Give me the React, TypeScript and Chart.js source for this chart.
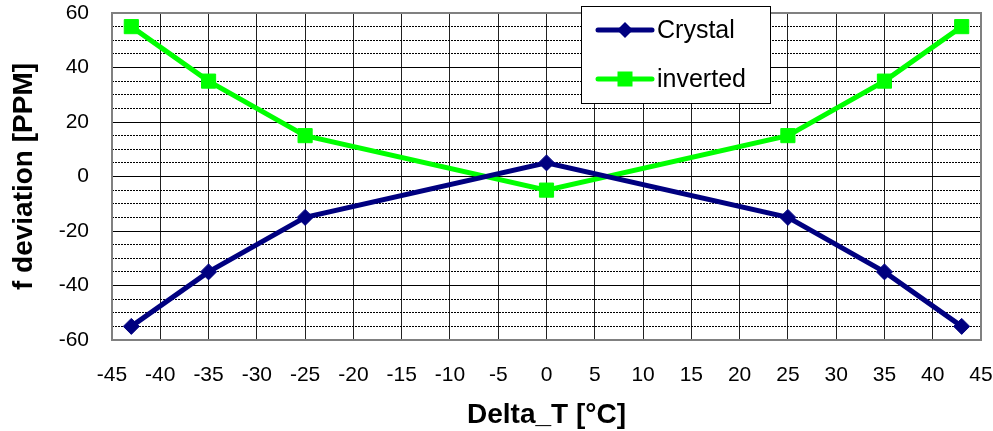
import React, { useEffect, useRef } from 'react';
import { Chart, registerables } from 'chart.js';

Chart.register(...registerables);

// ---- data ----
const deltaT = [-43, -35, -25, 0, 25, 35, 43];
const crystal = [-55, -35, -15, 5, -15, -35, -55];
const inverted = [55, 35, 15, -5, 15, 35, 55];
const seriesNames = ['Crystal', 'inverted'];
const yTickLabels = [-60, -40, -20, 0, 20, 40, 60];
const xTickLabels = [-45, -40, -35, -30, -25, -20, -15, -10, -5, 0, 5, 10, 15, 20, 25, 30, 35, 40, 45];
const xTitle = 'Delta_T [°C]';
const yTitle = 'f deviation [PPM]';

const FONT = '"Liberation Sans", Arial, sans-serif';
const NAVY = '#000080';
const LIME = '#00FF00';

const plotBorder = {
  id: 'plotBorder',
  beforeDatasetsDraw(chart: any) {
    const { ctx, chartArea: a } = chart;
    ctx.save();
    ctx.strokeStyle = '#808080';
    ctx.lineWidth = 2;
    ctx.strokeRect(a.left, a.top, a.right - a.left, a.bottom - a.top);
    ctx.restore();
  },
};

const boxLegend = {
  id: 'boxLegend',
  afterDraw(chart: any) {
    const { ctx } = chart;
    const bx = 581, by = 6, bw = 189, bh = 97;
    ctx.save();
    ctx.fillStyle = '#ffffff';
    ctx.fillRect(bx, by, bw, bh);
    ctx.strokeStyle = '#000000';
    ctx.lineWidth = 1;
    ctx.strokeRect(bx + 0.5, by + 0.5, bw, bh);
    const rows = [30, 79];
    chart.data.datasets.forEach((ds: any, i: number) => {
      const y = rows[i];
      ctx.strokeStyle = ds.borderColor;
      ctx.lineWidth = 5;
      ctx.lineCap = 'round';
      ctx.beginPath();
      ctx.moveTo(598, y);
      ctx.lineTo(652, y);
      ctx.stroke();
      ctx.fillStyle = ds.borderColor;
      const cx = 625;
      if (ds.pointStyle === 'rectRot') {
        ctx.beginPath();
        ctx.moveTo(cx - 8, y);
        ctx.lineTo(cx, y - 8);
        ctx.lineTo(cx + 8, y);
        ctx.lineTo(cx, y + 8);
        ctx.closePath();
        ctx.fill();
      } else {
        ctx.fillRect(cx - 7.5, y - 7.5, 15, 15);
      }
      ctx.fillStyle = '#000000';
      ctx.font = `25px ${FONT}`;
      ctx.textBaseline = 'middle';
      ctx.textAlign = 'left';
      ctx.fillText(ds.label, 657, y + 1);
    });
    ctx.restore();
  },
};

export default function App() {
  const ref = useRef<HTMLCanvasElement | null>(null);

  useEffect(() => {
    document.body.style.margin = '0';
    const canvas = ref.current;
    if (!canvas) return;
    const chart = new Chart(canvas, {
      type: 'line',
      data: {
        datasets: [
          {
            label: seriesNames[0],
            data: deltaT.map((x, i) => ({ x, y: crystal[i] })),
            borderColor: NAVY,
            backgroundColor: NAVY,
            borderWidth: 5,
            pointStyle: 'rectRot',
            pointRadius: 8,
            pointBorderWidth: 1,
            pointBackgroundColor: NAVY,
            pointBorderColor: NAVY,
            tension: 0,
          },
          {
            label: seriesNames[1],
            data: deltaT.map((x, i) => ({ x, y: inverted[i] })),
            borderColor: LIME,
            backgroundColor: LIME,
            borderWidth: 5,
            pointStyle: 'rect',
            pointRadius: 10,
            pointBorderWidth: 1,
            pointBackgroundColor: LIME,
            pointBorderColor: LIME,
            tension: 0,
          },
        ],
      },
      options: {
        responsive: false,
        animation: false,
        devicePixelRatio: 1,
        layout: { padding: { top: 13, right: 12, bottom: 0, left: 0 } },
        plugins: {
          legend: { display: false },
          tooltip: { enabled: false },
          title: { display: false },
        },
        scales: {
          x: {
            type: 'linear',
            min: xTickLabels[0],
            max: xTickLabels[xTickLabels.length - 1],
            afterBuildTicks: (scale: any) => {
              scale.ticks = xTickLabels.map((v) => ({ value: v }));
            },
            ticks: {
              autoSkip: false,
              maxRotation: 0,
              padding: 0,
              color: '#000',
              font: { family: FONT, size: 21 },
              callback: (v: any) => String(v),
            },
            grid: {
              color: '#222',
              lineWidth: 1,
              drawTicks: true,
              tickLength: 23,
              tickColor: 'rgba(0,0,0,0)',
            },
            border: { display: false },
            title: {
              display: true,
              text: xTitle,
              color: '#000',
              font: { family: FONT, size: 28, weight: 'bold', lineHeight: 1.15 },
              padding: { top: 0, bottom: 0 },
            },
            afterFit: (scale: any) => {
              scale.height = 91;
            },
          },
          y: {
            type: 'linear',
            min: -60,
            max: 60,
            ticks: {
              stepSize: 5,
              autoSkip: false,
              padding: 0,
              color: '#000',
              font: { family: FONT, size: 21 },
              callback: (v: any) => (yTickLabels.includes(Number(v)) ? String(v) : ''),
            },
            grid: {
              color: '#000',
              lineWidth: 1,
              drawTicks: true,
              tickLength: 23,
              tickColor: 'rgba(0,0,0,0)',
            },
            border: {
              display: false,
              dash: (ctx: any) =>
                ctx.tick && !yTickLabels.includes(ctx.tick.value) ? [2, 1] : [],
            },
            title: {
              display: true,
              text: yTitle,
              color: '#000',
              font: { family: FONT, size: 28, weight: 'bold', lineHeight: 1.15 },
              padding: { top: 8, bottom: 8 },
            },
            afterFit: (scale: any) => {
              scale.width = 112;
            },
          },
        },
      },
      plugins: [plotBorder, boxLegend],
    } as any);
    return () => chart.destroy();
  }, []);

  return (
    <div style={{ width: 993, height: 431 }}>
      <canvas ref={ref} width={993} height={431} style={{ display: 'block' }} />
    </div>
  );
}
